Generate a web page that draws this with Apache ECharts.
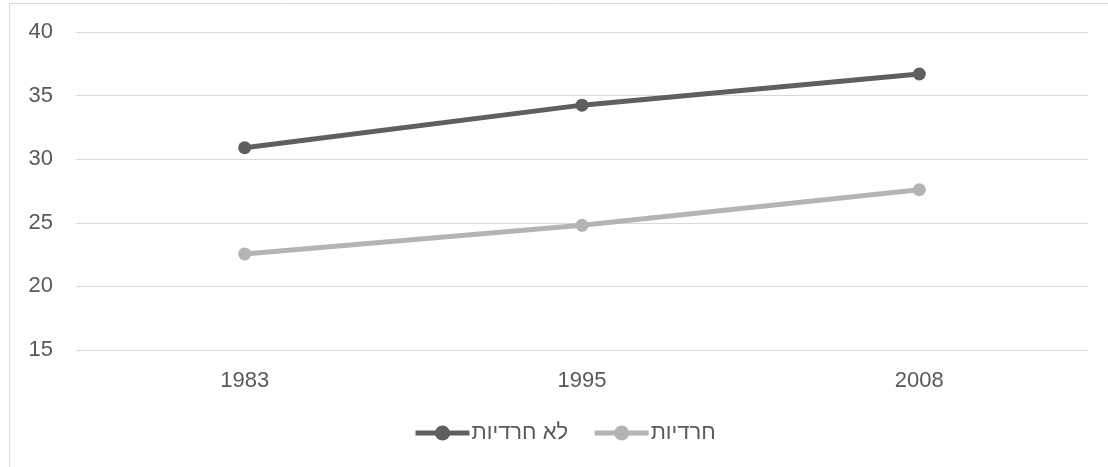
<!DOCTYPE html>
<html>
<head>
<meta charset="utf-8">
<script src="https://cdn.jsdelivr.net/npm/echarts@6/dist/echarts.min.js"></script>
<style>
html,body{margin:0;padding:0;background:#fff;}
#main{width:1108px;height:467px;}
</style>
</head>
<body>
<div id="main"></div>
<script>
const categories = ['1983', '1995', '2008'];
const nonHaredi = [30.9, 34.25, 36.7];
const haredi = [22.55, 24.8, 27.6];
const seriesNames = ['לא חרדיות', 'חרדיות'];
const yTicks = { min: 15, max: 40, interval: 5 };

const FONT = '"Liberation Sans", "DejaVu Sans", sans-serif';
const chart = echarts.init(document.getElementById('main'), null, { renderer: 'canvas' });
chart.setOption({
  backgroundColor: '#fff',
  animation: false,
  textStyle: { fontFamily: FONT },
  graphic: [{
    type: 'rect', silent: true, z: -1,
    shape: { x: 9.5, y: 3.5, width: 1200, height: 600 },
    style: { fill: 'none', stroke: '#d9d9d9', lineWidth: 1 }
  }],
  grid: { left: 76, right: 20, top: 32, bottom: 117, containLabel: false },
  legend: {
    left: 408, top: 417,
    itemWidth: 54, itemHeight: 19, itemGap: 24,
    lineStyle: { width: 5 },
    textStyle: { fontSize: 22, color: '#595959', fontFamily: FONT, padding: [0, 0, 0, -3] },
    data: seriesNames
  },
  xAxis: {
    type: 'category', data: categories, boundaryGap: true,
    axisLine: { show: false }, axisTick: { show: false },
    axisLabel: { fontSize: 22, color: '#595959', margin: 20, fontFamily: FONT }
  },
  yAxis: {
    type: 'value', min: yTicks.min, max: yTicks.max, interval: yTicks.interval,
    axisLine: { show: false }, axisTick: { show: false },
    axisLabel: { fontSize: 22, color: '#595959', margin: 23, fontFamily: FONT },
    splitLine: { lineStyle: { color: '#d9d9d9', width: 1 } }
  },
  series: [
    {
      name: seriesNames[0], type: 'line', data: nonHaredi,
      symbol: 'circle', symbolSize: 13,
      lineStyle: { color: '#5f5f5f', width: 5 },
      itemStyle: { color: '#5f5f5f' }
    },
    {
      name: seriesNames[1], type: 'line', data: haredi,
      symbol: 'circle', symbolSize: 13,
      lineStyle: { color: '#b4b4b4', width: 5 },
      itemStyle: { color: '#b4b4b4' }
    }
  ]
});
</script>
</body>
</html>
